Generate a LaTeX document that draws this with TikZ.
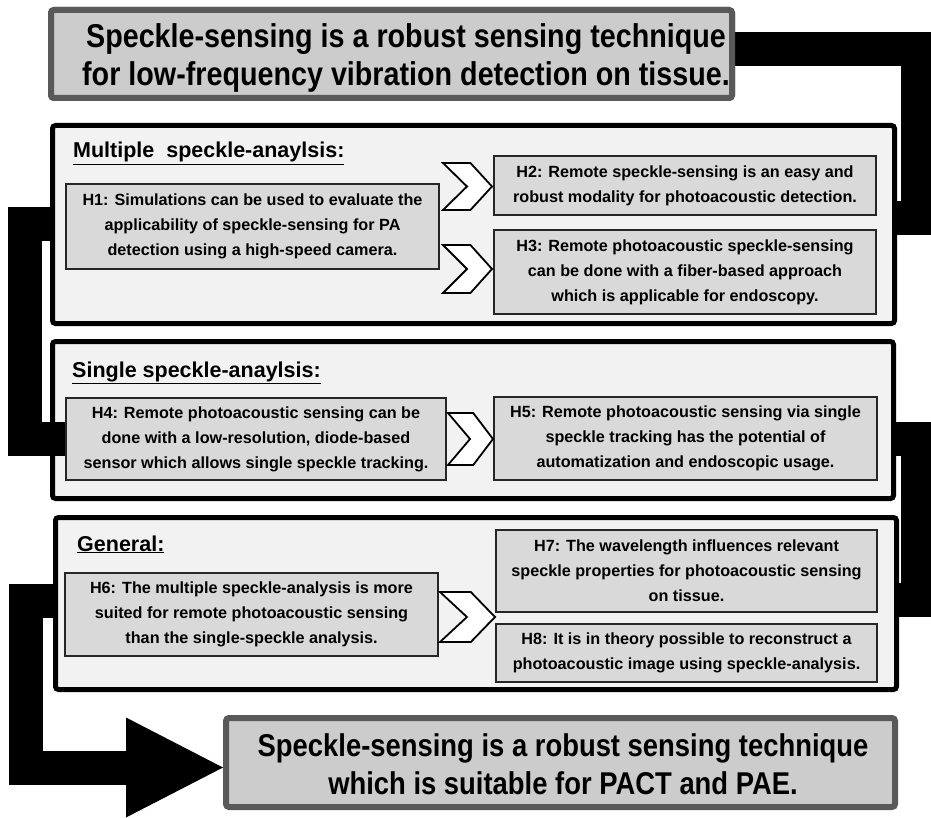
\documentclass[tikz,border=0pt]{standalone}
\usepackage{fontspec}
\setmainfont{Liberation Sans}
\newfontfamily\narrowbold[FakeStretch=0.87]{Liberation Sans Bold}
\usetikzlibrary{calc}

\definecolor{titlefill}{HTML}{CCCCCC}
\definecolor{titleedge}{HTML}{595959}
\definecolor{groupfill}{HTML}{F2F2F2}
\definecolor{hypfill}{HTML}{D9D9D9}
\definecolor{hypedge}{HTML}{262626}

\tikzset{
  titlebox/.style={draw=titleedge, fill=titlefill, line width=6pt, rounded corners=3pt,
    inner sep=0pt, outer sep=0pt},
  titletext/.style={inner sep=0pt, align=center,
    font=\narrowbold\fontsize{33}{38}\selectfont},
  groupbox/.style={draw=black, fill=groupfill, line width=5pt, rounded corners=3pt,
    inner sep=0pt, outer sep=0pt},
  hypbox/.style={draw=hypedge, fill=hypfill, line width=2.4pt,
    inner sep=0pt, outer sep=0pt, align=center,
    font=\bfseries\fontsize{16.2}{25}\selectfont},
  grouptitle/.style={anchor=base west, inner sep=0pt,
    font=\bfseries\fontsize{21.5}{25}\selectfont},
  conn/.style={draw=black, line width=34pt, line join=miter, line cap=butt},
  chev/.style={draw=black, fill=white, line width=1.8pt, line join=miter},
}

% chevron between two boxes: #1,#2 top-left corner, #3,#4 bottom-right corner
\newcommand{\chevshape}[4]{%
  \draw[chev] (#1,#2) -- ({#1+0.56*(#3-#1)},#2) -- (#3,{(#2+#4)/2})
    -- ({#1+0.56*(#3-#1)},#4) -- (#1,#4) -- ({#1+0.49*(#3-#1)},{(#2+#4)/2}) -- cycle;}

\begin{document}
\begin{tikzpicture}[x=1pt,y=-1pt]
\useasboundingbox (0,0) rectangle (931,818);

% group frames
\node[groupbox, minimum width=842pt, minimum height=198pt] (S1) at (473.5,224.5) {};
\node[groupbox, minimum width=841pt, minimum height=157pt] (S2) at (473,420) {};
\node[groupbox, minimum width=841pt, minimum height=172pt] (S3) at (476,603.5) {};

% centres of the hypothesis boxes that the connectors run to
\path
  (252.5,226.5) coordinate (cH1)
  (256,439) coordinate (cH4);

% thick black connectors between the stages
\coordinate (tipB) at (223,767.5);
\draw[conn] (S1.west) -- ++(-27.5,0) |- ($(cH4)+(-188,0)$);
\draw[conn] ($(S2.east |- cH4)$) -- ++(24.5,0) |- ([yshift=4pt]S3.east);
\draw[conn] ([yshift=3pt]S3.west) -- ++(-29.5,0) |- ($(tipB)+(-97,0)$);
\fill[black] (tipB) -- ++(-97,-50) -- ++(0,100) -- cycle;

% top statement and its link down to the first group
\node[titlebox, minimum width=681pt, minimum height=88pt] (T) at (391.5,54) {};
\draw[conn] ([yshift=5pt]T.east) -- ++(186,0) |- ([yshift=6pt]S1.east);
\node[titlebox, minimum width=681pt, minimum height=88pt] at (T) {};
\node[titletext] (Ttext) at (406,57.5)
  {Speckle-sensing is a robust sensing technique\\
   for low-frequency vibration detection on tissue.};

% group titles
\node[grouptitle] (L1) at (73,158) {\underline{Multiple\ \ speckle-anaylsis:}};
\node[grouptitle] (L2) at (72,377) {\underline{Single\ speckle-anaylsis:}};
\node[grouptitle] (L3) at (77,551) {\underline{General:}};

% hypotheses
\node[hypbox, minimum width=372.6pt, minimum height=84.6pt] (H1) at (cH1)
  {H1: Simulations can be used to evaluate the\\
   applicability of speckle-sensing for PA\\
   detection using a high-speed camera.};
\node[hypbox, minimum width=381.6pt, minimum height=58.6pt] (H2) at (685,185.5)
  {H2: Remote speckle-sensing is an easy and\\
   robust modality for photoacoustic detection.};
\node[hypbox, minimum width=381.6pt, minimum height=83.6pt] (H3) at (685,272)
  {H3: Remote photoacoustic speckle-sensing\\
   can be done with a fiber-based approach\\
   which is applicable for endoscopy.};
\node[hypbox, minimum width=379.6pt, minimum height=81.6pt] (H4) at (cH4)
  {H4: Remote photoacoustic sensing can be\\
   done with a low-resolution, diode-based\\
   sensor which allows single speckle tracking.};
\node[hypbox, minimum width=382.6pt, minimum height=82.6pt] (H5) at (685.5,438.5)
  {H5: Remote photoacoustic sensing via single\\
   speckle tracking has the potential of\\
   automatization and endoscopic usage.};
\node[hypbox, minimum width=372.6pt, minimum height=82.6pt] (H6) at (251.5,614.5)
  {H6: The multiple speckle-analysis is more\\
   suited for remote photoacoustic sensing\\
   than the single-speckle analysis.};
\node[hypbox, minimum width=380.6pt, minimum height=81.6pt] (H7) at (686.5,571)
  {H7: The wavelength influences relevant\\
   speckle properties for photoacoustic sensing\\
   on tissue.};
\node[hypbox, minimum width=380.6pt, minimum height=57.6pt] (H8) at (686.5,653)
  {H8: It is in theory possible to reconstruct a\\
   photoacoustic image using speckle-analysis.};

% chevrons
\chevshape{443}{163}{492}{210}
\chevshape{443}{245}{492}{293}
\chevshape{448}{413}{493}{465}
\chevshape{440}{592}{495}{642}

% final statement
\node[titlebox, minimum width=669pt, minimum height=89pt] (B) at (560.5,762.5) {};
\node[titletext, font=\narrowbold\fontsize{31.5}{38}\selectfont] (Btext) at (563,764)
  {Speckle-sensing is a robust sensing technique\\
   which is suitable for PACT and PAE.};
\end{tikzpicture}
\end{document}
